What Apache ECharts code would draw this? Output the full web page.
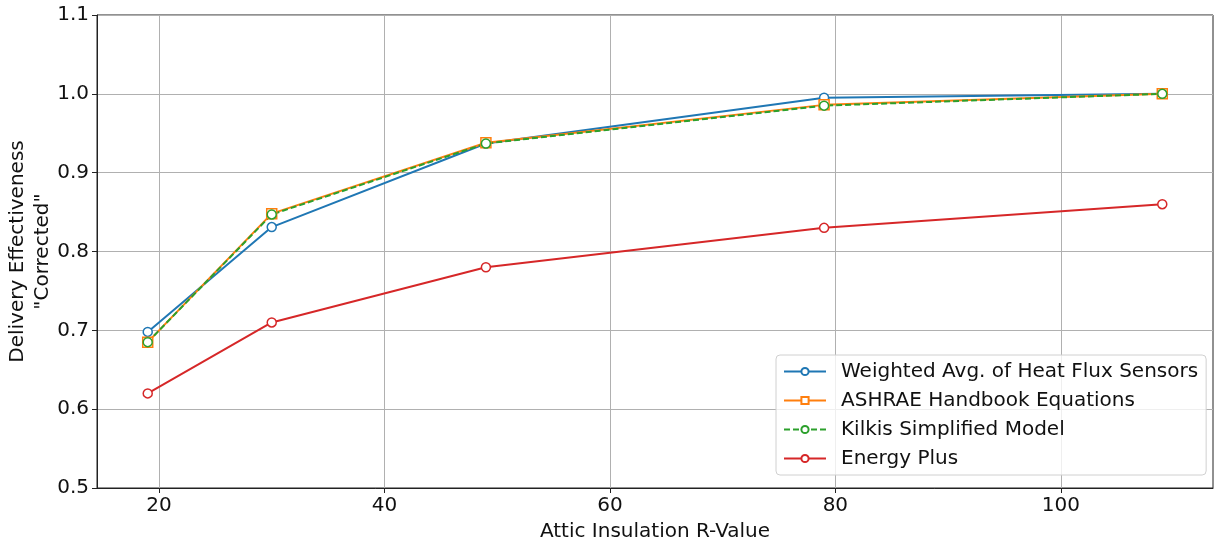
<!DOCTYPE html>
<html>
<head>
<meta charset="utf-8">
<script src="https://cdn.jsdelivr.net/npm/echarts@6/dist/echarts.min.js"></script>
<style>
  html, body { margin: 0; padding: 0; background: #fff; }
  #chart { width: 1214px; height: 544px; }
</style>
</head>
<body>
<div id="chart"></div>
<script>
// attic insulation R-values
const rValues = [19, 30, 49, 79, 109];
const xTicks = [20, 40, 60, 80, 100];

const heatFlux = [0.698, 0.831, 0.937, 0.995, 1.0];
const ashrae = [0.685, 0.848, 0.938, 0.986, 1.0];
const kilkis = [0.685, 0.847, 0.937, 0.985, 1.0];
const energyPlus = [0.62, 0.71, 0.78, 0.83, 0.86];

const font = "DejaVu Sans";

function pairs(ys) {
  return rValues.map((x, i) => [x, ys[i]]);
}

function line(name, ys, color, symbol, dashed) {
  return {
    name: name,
    type: "line",
    data: pairs(ys),
    symbol: symbol,
    symbolSize: symbol === "rect" ? 10 : 9,
    showSymbol: true,
    itemStyle: { color: "#fff", borderColor: color, borderWidth: 1.5 },
    lineStyle: { color: color, width: 2, type: dashed ? [6, 3] : "solid" },
    emphasis: { disabled: true },
    animation: false
  };
}

const chart = echarts.init(document.getElementById("chart"));
chart.setOption({
  textStyle: { fontFamily: font },
  grid: {
    left: 97,
    right: 1,
    top: 15,
    bottom: 56,
    containLabel: false,
    outerBoundsMode: "none",
    show: true,
    borderColor: "#222",
    borderWidth: 1,
    backgroundColor: "transparent"
  },
  xAxis: {
    type: "value",
    min: 14.5,
    max: 113.5,
    name: "Attic Insulation R-Value",
    nameLocation: "middle",
    nameGap: 34,
    nameMoveOverlap: false,
    nameTextStyle: { fontSize: 20, color: "#111", fontFamily: font },
    axisLine: { show: true, lineStyle: { color: "#222" } },
    axisTick: { show: true, length: 5, customValues: xTicks, lineStyle: { color: "#222" } },
    axisLabel: { customValues: xTicks, fontSize: 20, color: "#111", margin: 8, fontFamily: font },
    splitLine: { show: true, lineStyle: { color: "#b0b0b0", width: 1 } }
  },
  yAxis: {
    type: "value",
    min: 0.5,
    max: 1.1,
    interval: 0.1,
    name: "Delivery Effectiveness\n\"Corrected\"",
    nameLocation: "middle",
    nameRotate: 90,
    nameGap: 42,
    nameMoveOverlap: false,
    nameTextStyle: { fontSize: 20, color: "#111", lineHeight: 25, fontFamily: font },
    axisLine: { show: true, lineStyle: { color: "#222" } },
    axisTick: { show: true, length: 5, lineStyle: { color: "#222" } },
    axisLabel: {
      fontSize: 20,
      color: "#111",
      margin: 8,
      fontFamily: font,
      formatter: v => v.toFixed(1)
    },
    splitLine: { show: true, lineStyle: { color: "#b0b0b0", width: 1 } }
  },
  legend: {
    orient: "vertical",
    left: 776,
    top: 355,
    width: 430,
    padding: [5, 8, 5, 7],
    itemGap: 6,
    itemWidth: 42,
    itemHeight: 9,
    backgroundColor: "rgba(255,255,255,0.8)",
    borderColor: "#d0d0d0",
    borderWidth: 1,
    borderRadius: 4,
    textStyle: { fontSize: 20, color: "#111", fontFamily: font, lineHeight: 23, padding: [0, 0, 0, 10] },
    data: [
      "Weighted Avg. of Heat Flux Sensors",
      "ASHRAE Handbook Equations",
      "Kilkis Simplified Model",
      "Energy Plus"
    ]
  },
  series: [
    line("Weighted Avg. of Heat Flux Sensors", heatFlux, "#1f77b4", "circle", false),
    line("ASHRAE Handbook Equations", ashrae, "#ff7f0e", "rect", false),
    line("Kilkis Simplified Model", kilkis, "#2ca02c", "circle", true),
    line("Energy Plus", energyPlus, "#d62728", "circle", false)
  ]
});
</script>
</body>
</html>
